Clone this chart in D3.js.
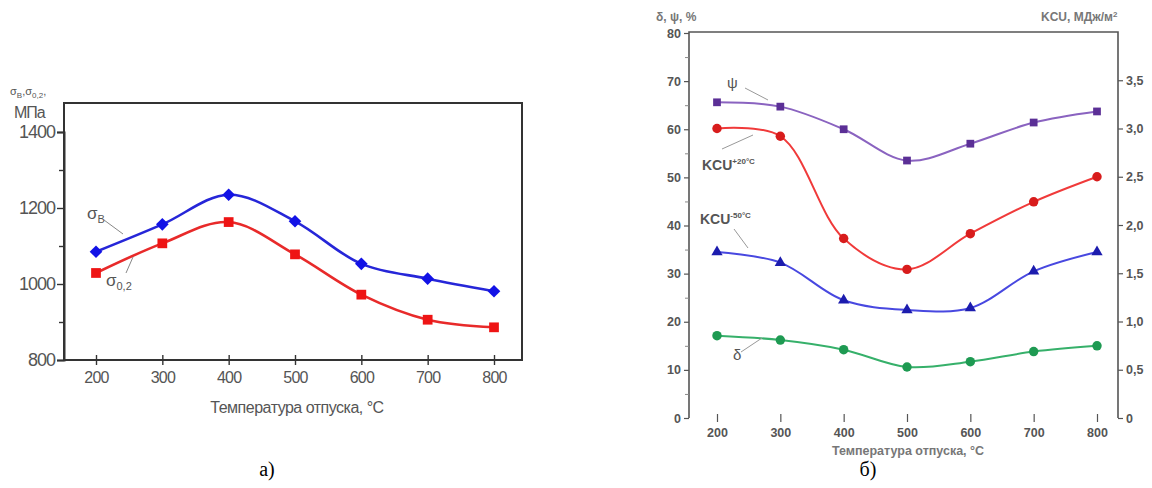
<!DOCTYPE html>
<html>
<head>
<meta charset="utf-8">
<script src="https://cdn.jsdelivr.net/npm/d3@7"></script>
<style>
  body { margin: 0; background: #fff; }
  svg { display: block; }
  .tick text { fill: #555; }
  .ann { fill: #555; font-family: "Liberation Sans", Arial, sans-serif; }
</style>
</head>
<body>
<svg id="chart" width="1152" height="488"></svg>
<script>
// shared x values, tempering temperature
const temps = [200, 300, 400, 500, 600, 700, 800];

// panel a, MPa
const sigmaB = [1085, 1157, 1235, 1165, 1053, 1014, 981];
const sigma02 = [1029, 1107, 1163, 1078, 972, 906, 886];
const aYTicks = [800, 1000, 1200, 1400];
const aYMinor = [900, 1100, 1300];

// panel b, % (left axis) and MJ/m2 (right axis)
const psi = [65.6, 64.7, 60.0, 53.5, 57.0, 61.4, 63.7];
const delta = [17.1, 16.2, 14.2, 10.6, 11.7, 13.8, 15.0];
const kcu20 = [3.0, 2.92, 1.86, 1.54, 1.91, 2.24, 2.5];
const kcu50 = [1.72, 1.61, 1.22, 1.12, 1.14, 1.52, 1.72];
const bLeftTicks = [0, 10, 20, 30, 40, 50, 60, 70, 80];
const bRightTicks = [0, 0.5, 1, 1.5, 2, 2.5, 3, 3.5];

const svg = d3.select("#chart");
const sans = '"Liberation Sans", Arial, sans-serif';

function styleAxis(g, color, width) {
  g.select(".domain").attr("stroke", color).attr("stroke-width", width);
  g.selectAll(".tick line").attr("stroke", color).attr("stroke-width", width * 0.7);
}

// ---------- panel a ----------
const ax = d3.scaleLinear().domain([200, 800]).range([96, 494]);
const ay = d3.scaleLinear().domain([800, 1400]).range([360, 132]);
const aLeft = 64, aRight = 522, aTop = 103, aBottom = 360;
const aG = svg.append("g");

aG.append("rect")
  .attr("x", aLeft).attr("y", aTop)
  .attr("width", aRight - aLeft).attr("height", aBottom - aTop)
  .attr("fill", "none").attr("stroke", "#333").attr("stroke-width", 2);

const aYAxis = aG.append("g")
  .attr("transform", `translate(${aLeft},0)`)
  .call(d3.axisLeft(ay).tickValues(aYTicks).tickSize(7).tickPadding(2).tickFormat(d3.format("d")));
aYAxis.selectAll("text").attr("font-family", sans).attr("font-size", 18)
  .attr("letter-spacing", -1);
styleAxis(aYAxis, "#333", 2);

aG.append("g")
  .attr("transform", `translate(${aLeft},0)`)
  .call(d3.axisLeft(ay).tickValues(aYMinor).tickSize(5).tickFormat(""))
  .call((g) => { g.select(".domain").remove(); g.selectAll("line").attr("stroke", "#333").attr("stroke-width", 1.4); });

const aXAxis = aG.append("g")
  .attr("transform", `translate(0,${aBottom})`)
  .call(d3.axisBottom(ax).tickValues(temps).tickSize(5).tickPadding(7).tickSizeOuter(0));
aXAxis.select(".domain").remove();
aXAxis.selectAll(".tick line").attr("y1", -5).attr("stroke", "#333").attr("stroke-width", 1.4);
aXAxis.selectAll("text").attr("font-family", sans).attr("font-size", 16).attr("letter-spacing", -0.8);

aG.append("text").attr("x", 297).attr("y", 413).attr("text-anchor", "middle")
  .attr("font-family", sans).attr("font-size", 16).attr("fill", "#555").attr("letter-spacing", -0.5)
  .text("Температура отпуска, °C");

const aLabel = aG.append("text").attr("x", 10).attr("y", 95).attr("class", "ann").attr("font-size", 11);
aLabel.append("tspan").text("σ");
aLabel.append("tspan").attr("font-size", 8).attr("dy", 3).text("В");
aLabel.append("tspan").attr("dy", -3).text(",σ");
aLabel.append("tspan").attr("font-size", 8).attr("dy", 3).text("0,2");
aLabel.append("tspan").attr("dy", -3).text(",");
aG.append("text").attr("x", 14).attr("y", 118).attr("class", "ann").attr("font-size", 16)
  .attr("letter-spacing", -1).text("МПа");

const aLine = d3.line().x((d) => ax(d[0])).y((d) => ay(d[1])).curve(d3.curveCatmullRom.alpha(0.5));

aG.append("path").datum(d3.zip(temps, sigmaB)).attr("d", aLine)
  .attr("fill", "none").attr("stroke", "#2626d8").attr("stroke-width", 2.6);
aG.append("path").datum(d3.zip(temps, sigma02)).attr("d", aLine)
  .attr("fill", "none").attr("stroke", "#e82a2a").attr("stroke-width", 2.6);

aG.selectAll(".diamond").data(d3.zip(temps, sigmaB)).join("path")
  .attr("transform", (d) => `translate(${ax(d[0])},${ay(d[1])}) rotate(45)`)
  .attr("d", d3.symbol(d3.symbolSquare, 80)).attr("fill", "#1212e6");
aG.selectAll(".square").data(d3.zip(temps, sigma02)).join("path")
  .attr("transform", (d) => `translate(${ax(d[0])},${ay(d[1])})`)
  .attr("d", d3.symbol(d3.symbolSquare, 95)).attr("fill", "#ee1414");

// series labels, panel a
const sb = aG.append("text").attr("x", 87).attr("y", 219).attr("class", "ann").attr("font-size", 17);
sb.append("tspan").text("σ");
sb.append("tspan").attr("font-size", 11).attr("dy", 4).text("В");
aG.append("line").attr("x1", 104).attr("y1", 220).attr("x2", 123).attr("y2", 234)
  .attr("stroke", "#888").attr("stroke-width", 1);
const s02 = aG.append("text").attr("x", 106).attr("y", 286).attr("class", "ann").attr("font-size", 17);
s02.append("tspan").text("σ");
s02.append("tspan").attr("font-size", 11).attr("dy", 4).text("0,2");
aG.append("line").attr("x1", 126).attr("y1", 273).attr("x2", 133).attr("y2", 257)
  .attr("stroke", "#888").attr("stroke-width", 1);

aG.append("text").attr("x", 267).attr("y", 476).attr("text-anchor", "middle")
  .attr("font-family", '"Liberation Serif", "Times New Roman", serif').attr("font-size", 20)
  .attr("fill", "#000").text("а)");

// ---------- panel b ----------
const bx = d3.scaleLinear().domain([200, 800]).range([717, 1097]);
const byL = d3.scaleLinear().domain([0, 80]).range([418, 33]);
const byR = d3.scaleLinear().domain([0, 4]).range([418, 32]);
const bLeft = 689, bRight = 1118, bTop = 32, bBottom = 418;
const bG = svg.append("g");

bG.append("path")
  .attr("d", `M${bLeft},${bBottom}V${bTop}H${bRight}V${bBottom}`)
  .attr("fill", "none").attr("stroke", "#555").attr("stroke-width", 1.6);

const bYL = bG.append("g")
  .attr("transform", `translate(${bLeft},0)`)
  .call(d3.axisLeft(byL).tickValues(bLeftTicks).tickSize(5).tickPadding(3).tickSizeOuter(0));
bYL.select(".domain").remove();
bYL.selectAll(".tick line").attr("stroke", "#555").attr("stroke-width", 1.2);
bYL.selectAll("text").attr("font-family", sans).attr("font-size", 12.5).attr("font-weight", "bold")
  .attr("fill", "#777");
bG.append("g")
  .attr("transform", `translate(${bLeft},0)`)
  .call(d3.axisLeft(byL).tickValues(d3.range(5, 80, 10)).tickSize(4).tickFormat(""))
  .call((g) => { g.select(".domain").remove(); g.selectAll("line").attr("stroke", "#888").attr("stroke-width", 1); });

const bYR = bG.append("g")
  .attr("transform", `translate(${bRight},0)`)
  .call(d3.axisRight(byR).tickValues(bRightTicks).tickSize(5).tickPadding(3).tickSizeOuter(0)
    .tickFormat((d) => (d === 0 ? "0" : d3.format(".1f")(d).replace(".", ","))));
bYR.select(".domain").remove();
bYR.selectAll(".tick line").attr("stroke", "#555").attr("stroke-width", 1.2);
bYR.selectAll("text").attr("font-family", sans).attr("font-size", 12.5).attr("font-weight", "bold")
  .attr("fill", "#777");

const bXAxis = bG.append("g")
  .attr("transform", `translate(0,${bBottom})`)
  .call(d3.axisBottom(bx).tickValues(temps).tickSize(4).tickPadding(6).tickSizeOuter(0));
bXAxis.select(".domain").remove();
bXAxis.selectAll(".tick line").attr("y1", -4).attr("stroke", "#555").attr("stroke-width", 1.2);
bXAxis.selectAll("text").attr("font-family", sans).attr("font-size", 12.5).attr("font-weight", "bold")
  .attr("fill", "#777");

bG.append("text").attr("x", 908).attr("y", 455).attr("text-anchor", "middle")
  .attr("font-family", sans).attr("font-size", 12.5).attr("font-weight", "bold").attr("fill", "#777")
  .text("Температура отпуска, °C");
bG.append("text").attr("x", 656).attr("y", 21)
  .attr("font-family", sans).attr("font-size", 12).attr("font-weight", "bold").attr("fill", "#777")
  .text("δ, ψ, %");
const kcuTitle = bG.append("text").attr("x", 1041).attr("y", 21)
  .attr("font-family", sans).attr("font-size", 12).attr("font-weight", "bold").attr("fill", "#777");
kcuTitle.append("tspan").text("KCU, МДж/м");
kcuTitle.append("tspan").attr("font-size", 8).attr("dy", -4).text("2");

const bLineL = d3.line().x((d) => bx(d[0])).y((d) => byL(d[1])).curve(d3.curveCatmullRom.alpha(0.5));
const bLineR = d3.line().x((d) => bx(d[0])).y((d) => byR(d[1])).curve(d3.curveCatmullRom.alpha(0.5));

const bSeries = [
  { values: psi, line: bLineL, y: byL, stroke: "#8a63c0", fill: "#5b2f96", symbol: d3.symbolSquare, size: 60 },
  { values: kcu20, line: bLineR, y: byR, stroke: "#f03a3a", fill: "#d81c1c", symbol: d3.symbolCircle, size: 70 },
  { values: kcu50, line: bLineR, y: byR, stroke: "#4848e0", fill: "#1c1cae", symbol: d3.symbolTriangle, size: 55 },
  { values: delta, line: bLineL, y: byL, stroke: "#36b06a", fill: "#1e9a52", symbol: d3.symbolCircle, size: 70 },
];

bSeries.forEach((s) => {
  const pts = d3.zip(temps, s.values);
  bG.append("path").datum(pts).attr("d", s.line)
    .attr("fill", "none").attr("stroke", s.stroke).attr("stroke-width", 2);
  bG.append("g").selectAll("path").data(pts).join("path")
    .attr("transform", (d) => `translate(${bx(d[0])},${s.y(d[1])})`)
    .attr("d", d3.symbol(s.symbol, s.size)).attr("fill", s.fill);
});

// series labels, panel b
bG.append("text").attr("x", 727).attr("y", 88).attr("class", "ann").attr("font-size", 15).text("ψ");
bG.append("line").attr("x1", 745).attr("y1", 88).attr("x2", 768).attr("y2", 100)
  .attr("stroke", "#999").attr("stroke-width", 1);

const k20 = bG.append("text").attr("x", 702).attr("y", 170).attr("class", "ann")
  .attr("font-size", 14).attr("font-weight", "bold").attr("fill", "#666");
k20.append("tspan").text("KCU");
k20.append("tspan").attr("font-size", 8).attr("dy", -6).text("+20°C");
bG.append("line").attr("x1", 722).attr("y1", 149).attr("x2", 753).attr("y2", 135)
  .attr("stroke", "#999").attr("stroke-width", 1);

const k50 = bG.append("text").attr("x", 700).attr("y", 224).attr("class", "ann")
  .attr("font-size", 14).attr("font-weight", "bold").attr("fill", "#666");
k50.append("tspan").text("KCU");
k50.append("tspan").attr("font-size", 8).attr("dy", -6).text("-50°C");
bG.append("line").attr("x1", 734).attr("y1", 229).attr("x2", 748).attr("y2", 248)
  .attr("stroke", "#999").attr("stroke-width", 1);

bG.append("text").attr("x", 733).attr("y", 360).attr("class", "ann").attr("font-size", 15).text("δ");
bG.append("line").attr("x1", 741).attr("y1", 352).attr("x2", 762).attr("y2", 338)
  .attr("stroke", "#999").attr("stroke-width", 1);

bG.append("text").attr("x", 868).attr("y", 476).attr("text-anchor", "middle")
  .attr("font-family", '"Liberation Serif", "Times New Roman", serif').attr("font-size", 20)
  .attr("fill", "#000").text("б)");
</script>
</body>
</html>
